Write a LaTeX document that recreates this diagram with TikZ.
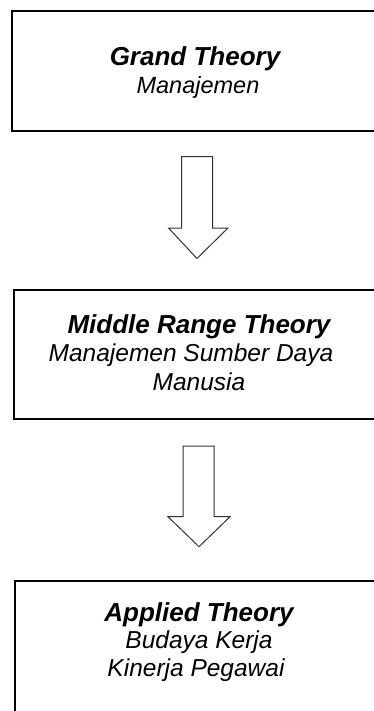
\documentclass[tikz,border=0pt]{standalone}
\usepackage{fontspec}
\setmainfont{Liberation Sans}
\begin{document}
\begin{tikzpicture}[x=1pt,y=-1pt,
  box/.style={draw=black,line width=2pt},
  blockarrow/.style={draw=black!80,line width=1pt,fill=white,line join=miter},
  titletext/.style={anchor=base,font=\fontsize{26}{30}\selectfont\bfseries\itshape,inner sep=0pt},
  subtext/.style={anchor=base,font=\fontsize{24.5}{29}\selectfont\itshape,inner sep=0pt},
  smallsub/.style={anchor=base,font=\fontsize{23.5}{28}\selectfont\itshape,inner sep=0pt}]
\useasboundingbox (0,0) rectangle (374,711);
\clip (0,0) rectangle (374,711);
% boxes
\draw[box] (11.5,11.5) rectangle (386,131.5);
\draw[box] (13.5,289.5) rectangle (386,419.3);
\draw[box] (14.5,581) rectangle (386,730);
% texts
\node[titletext] (t1) at (195,66) {Grand Theory};
\node[smallsub] (s1) at (198,93.5) {Manajemen};
\node[titletext] (t2) at (199,333) {Middle Range Theory};
\node[subtext] (s2a) at (191,361.5) {Manajemen Sumber Daya};
\node[subtext] (s2b) at (199,390) {Manusia};
\node[titletext] (t3) at (199,621.5) {Applied Theory};
\node[subtext] (s3a) at (199,648.5) {Budaya Kerja};
\node[subtext] (s3b) at (196,676.5) {Kinerja Pegawai};
% block arrows
\draw[blockarrow] (181.5,156.7) -- (212.5,156.7) -- (212.5,228) -- (228,228) -- (197,258.5)
  -- (168.5,228) -- (181.5,228) -- cycle;
\draw[blockarrow] (183,446) -- (214,446) -- (214,516.7) -- (230,516.7) -- (199,546.7)
  -- (168,516.7) -- (183,516.7) -- cycle;
\end{tikzpicture}
\end{document}
